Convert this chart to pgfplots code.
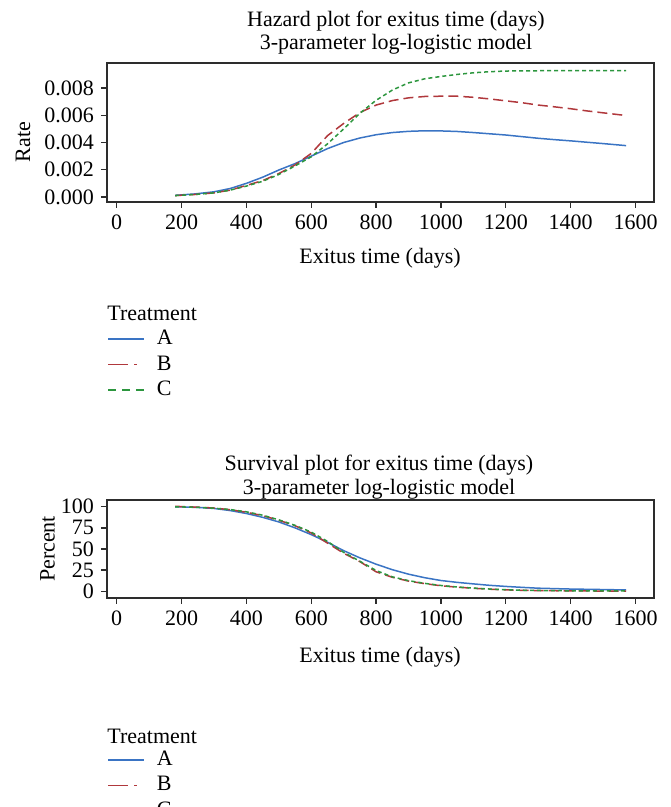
\documentclass[border=0pt]{standalone}
\usepackage{fontspec}
\setmainfont{Liberation Serif}
\usepackage{pgfplots}
\usepackage{pgfplotstable}
\pgfplotsset{compat=1.18}

\definecolor{trtA}{RGB}{58,116,196}
\definecolor{trtB}{RGB}{176,56,60}
\definecolor{trtC}{RGB}{44,150,62}
\definecolor{axgray}{RGB}{45,45,45}

% hazard rates
\pgfplotstableread{
t     A        B        C
180   0.00012  0.00010  0.00010
240   0.00022  0.00018  0.00018
300   0.00038  0.00030  0.00030
350   0.00062  0.00050  0.00050
400   0.00100  0.00085  0.00080
450   0.00145  0.00120  0.00115
500   0.00198  0.00172  0.00165
550   0.00245  0.00235  0.00228
600   0.00300  0.00320  0.00295
650   0.00355  0.00450  0.00390
700   0.00400  0.00540  0.00500
750   0.00433  0.00620  0.00615
800   0.00457  0.00675  0.00710
850   0.00473  0.00708  0.00785
900   0.00482  0.00728  0.00838
950   0.00486  0.00738  0.00868
1000  0.00485  0.00740  0.00885
1050  0.00481  0.00740  0.00900
1100  0.00473  0.00732  0.00912
1150  0.00464  0.00720  0.00920
1200  0.00455  0.00706  0.00925
1250  0.00443  0.00692  0.00926
1300  0.00431  0.00675  0.00927
1350  0.00421  0.00662  0.00927
1400  0.00412  0.00648  0.00927
1450  0.00402  0.00632  0.00927
1500  0.00392  0.00618  0.00927
1571  0.00377  0.00598  0.00927
}\hazard

% survival percent
\pgfplotstableread{
t     A      B      C
180   100    100.5  100
250   99.2   99.5   99.3
300   98.0   98.5   98.3
350   95.5   96.5   96.7
400   92.0   93.5   94.0
450   87.5   89.5   90.0
500   82.0   84.0   84.5
550   75.0   77.5   78.0
600   67.0   69.0   70.0
650   58.0   57.0   59.0
700   48.0   45.0   46.0
750   39.5   35.0   35.5
800   32.0   23.0   24.5
850   25.5   16.5   17.0
900   20.2   12.0   12.5
950   16.0   9.0    9.3
1000  12.7   6.5    6.8
1050  10.5   4.8    5.0
1100  8.7    3.5    3.7
1150  7.0    2.4    2.6
1200  5.7    1.6    1.8
1250  4.6    1.1    1.2
1300  3.6    0.8    0.9
1400  2.6    0.4    0.5
1500  2.0    0.2    0.3
1571  1.5    0.2    0.3
}\surv

\pgfplotsset{
  exitus/.style={
    scale only axis, width=273.5pt, anchor=south west,
    xmin=-30, xmax=1657,
    xtick={0,200,...,1600},
    axis line style={draw=axgray, line width=0.65pt},
    tick style={draw=axgray, line width=0.65pt},
    tick align=outside, tick pos=left,
    major tick length=3pt,
    /pgf/number format/assume math mode=true,
    /pgf/number format/1000 sep={},
    tick label style={font=\fontsize{11}{13}\selectfont},
    legend cell align=left,
    legend style={draw=none, fill=none, inner sep=0pt, anchor=north west,
      font=\fontsize{11}{13}\selectfont, row sep=0pt, column sep=4pt,
      nodes={inner sep=2pt}},
  },
  lineA/.style={trtA, line width=0.75pt,
    legend image code/.code={\draw[trtA, solid, line width=0.75pt] (0pt,0pt) -- (18pt,0pt);}},
  lineB/.style={trtB, line width=0.75pt, dash pattern=on 5pt off 2.5pt,
    legend image code/.code={\draw[trtB, solid, line width=0.75pt] (0pt,0pt) -- (10pt,0pt) (13pt,0pt) -- (14.5pt,0pt);}},
  lineC/.style={trtC, line width=0.75pt, dash pattern=on 2pt off 1.5pt,
    legend image code/.code={\draw[trtC, line width=0.75pt, dash pattern=on 4pt off 3pt] (0pt,0pt) -- (18pt,0pt);}},
}

\begin{document}
\begin{tikzpicture}
\useasboundingbox (0,0) rectangle (335pt,403.5pt);
\tikzset{lbl/.style={font=\fontsize{11}{13}\selectfont, inner sep=0pt}}

% hazard plot
\node[lbl] at (198pt,393pt) {Hazard plot for exitus time (days)};
\node[lbl] at (198pt,381.5pt) {3-parameter log-logistic model};
\begin{axis}[exitus, at={(53.5pt,302.5pt)}, height=69.5pt,
  ymin=-0.00037, ymax=0.00984,
  ytick={0,0.002,0.004,0.006,0.008}, scaled y ticks=false,
  yticklabel style={/pgf/number format/.cd, fixed, fixed zerofill, precision=3},
  legend style={at={(axis description cs:0,-0.89)}}]
\addplot[lineA] table[x=t, y=A] {\hazard};
\addplot[lineB] table[x=t, y=B] {\hazard};
\addplot[lineC] table[x=t, y=C] {\hazard};
\legend{A,B,C}
\end{axis}
\node[lbl, rotate=90] at (11.5pt,332.5pt) {Rate};
\node[lbl] at (190pt,274.5pt) {Exitus time (days)};
\node[lbl, anchor=west] at (53.5pt,247pt) {Treatment};

% survival plot
\node[lbl] at (189.5pt,171pt) {Survival plot for exitus time (days)};
\node[lbl] at (189.5pt,159pt) {3-parameter log-logistic model};
\begin{axis}[exitus, at={(53.5pt,104.5pt)}, height=49pt,
  ymin=-8, ymax=108,
  ytick={0,25,50,75,100},
  legend style={at={(axis description cs:0,-1.517)}}]
\addplot[lineA] table[x=t, y=A] {\surv};
\addplot[lineB] table[x=t, y=B] {\surv};
\addplot[lineC] table[x=t, y=C] {\surv};
\legend{A,B,C}
\end{axis}
\node[lbl, rotate=90] at (23.75pt,129pt) {Percent};
\node[lbl] at (190pt,75pt) {Exitus time (days)};
\node[lbl, anchor=west] at (53.5pt,35.5pt) {Treatment};
\end{tikzpicture}
\end{document}
